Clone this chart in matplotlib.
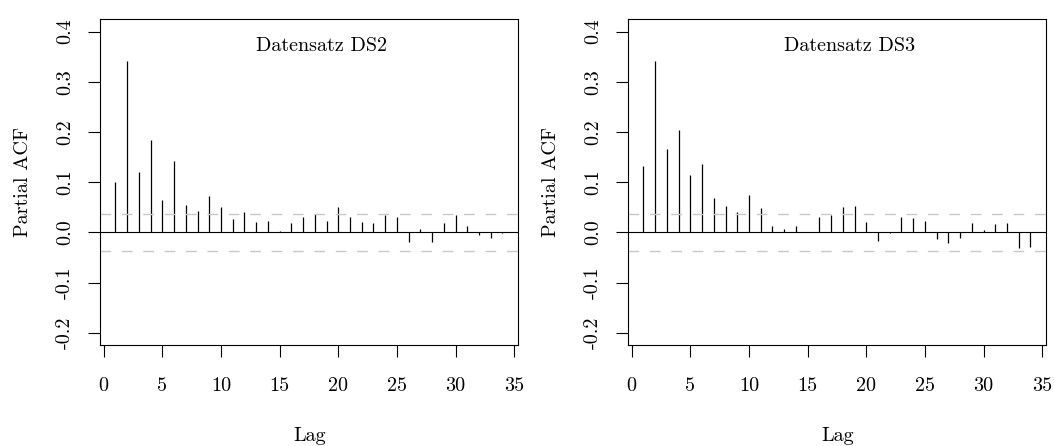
"""
Partial autocorrelation plots for the two data sets (DS2, DS3)
"""

import numpy as np
import matplotlib
matplotlib.use("Agg")
import matplotlib.pyplot as plt

plt.rcParams['font.family'] = ['cmr10', 'DejaVu Serif']
plt.rcParams['font.size'] = 14.5

lags = np.arange(1, 35)

pacf_ds2 = [0.101, 0.342, 0.120, 0.185, 0.064, 0.143, 0.055, 0.043, 0.072, 0.051,
            0.027, 0.040, 0.021, 0.023, 0.002, 0.019, 0.031, 0.037, 0.023, 0.051,
            0.030, 0.020, 0.018, 0.035, 0.031, -0.019, 0.006, -0.019, 0.018, 0.035,
            0.013, -0.005, -0.010, -0.001]
pacf_ds3 = [0.133, 0.342, 0.167, 0.205, 0.114, 0.137, 0.068, 0.052, 0.041, 0.074,
            0.048, 0.012, 0.007, 0.013, 0.001, 0.031, 0.035, 0.050, 0.052, 0.021,
            -0.017, -0.002, 0.031, 0.028, 0.023, -0.012, -0.021, -0.010, 0.019, 0.005,
            0.016, 0.018, -0.031, -0.029]
conf_ds2 = 0.037
conf_ds3 = 0.036

titles = ['Datensatz DS2', 'Datensatz DS3']
xticks = [0, 5, 10, 15, 20, 25, 30, 35]
yticks = [-0.2, -0.1, 0.0, 0.1, 0.2, 0.3, 0.4]
ytick_labels = ['-0.2', '-0.1', '0.0', '0.1', '0.2', '0.3', '0.4']

W, H = 1054, 446
fig = plt.figure(figsize=(W / 100, H / 100), dpi=100)

panels = [(pacf_ds2, conf_ds2, 100), (pacf_ds3, conf_ds3, 628)]
for (vals, conf, left_px), title in zip(panels, titles):
    ax = fig.add_axes([left_px / W, (H - 345) / H, 418.3 / W, 326 / H])
    ax.set_xlim(-0.315, 35.35)
    ax.set_ylim(-0.224, 0.425)

    ax.vlines(lags, 0, vals, color='black', lw=0.9)
    ax.axhline(0, color='black', lw=0.8)
    for c in (conf, -conf):
        ax.axhline(c, color='#c8c8c8', lw=1.0, dashes=(7.7, 7.7))

    ax.text(18.6, 0.372, title, ha='center', va='center')

    for s in ax.spines.values():
        s.set_linewidth(0.8)

    ax.set_xticks(xticks)
    ax.set_xticklabels([str(t) for t in xticks])
    ax.set_yticks(yticks)
    ax.set_yticklabels(ytick_labels, rotation=90, va='center')
    ax.tick_params(axis='x', length=8.6, width=0.8, pad=14.5)
    ax.tick_params(axis='y', length=8.6, width=0.8, pad=10)

    ax.set_xlabel('Lag')
    ax.xaxis.label.set_va('center')
    ax.xaxis.set_label_coords(0.5, -0.28)
    ax.set_ylabel('Partial ACF')
    ax.yaxis.label.set_va('center')
    ax.yaxis.set_label_coords(-0.185, 0.5)

fig.savefig('out.png', dpi=100)
